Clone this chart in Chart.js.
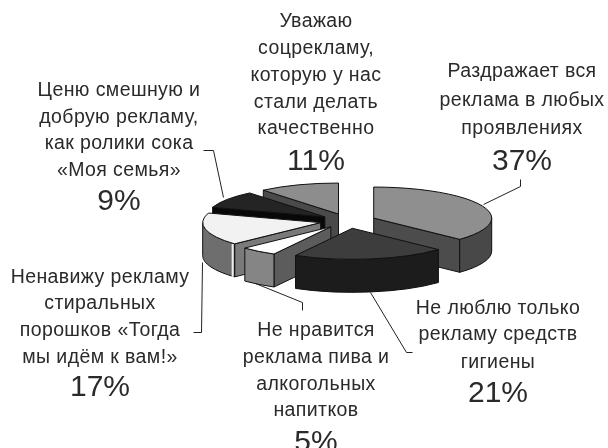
<!DOCTYPE html>
<html>
<head>
<meta charset="utf-8">
<style>
    html, body { margin: 0; padding: 0; background: #fff; overflow: hidden; }
    canvas { display: block; filter: blur(0.4px); }
</style>
<script src="https://cdn.jsdelivr.net/npm/chart.js@4"></script>
</head>
<body>
<canvas id="pie3d" width="608" height="448"></canvas>
<script>
const categories = [
    ['Раздражает вся', 'реклама в любых', 'проявлениях'],
    ['Не люблю только', 'рекламу средств', 'гигиены'],
    ['Не нравится', 'реклама пива и', 'алкогольных', 'напитков'],
    ['Ненавижу рекламу', 'стиральных', 'порошков «Тогда', 'мы идём к вам!»'],
    ['Ценю смешную и', 'добрую рекламу,', 'как ролики сока', '«Моя семья»'],
    ['Уважаю', 'соцрекламу,', 'которую у нас', 'стали делать', 'качественно']
];
const shares = [37, 21, 5, 17, 9, 11];

const topColors = ['#8f8f8f', '#3d3d3d', '#ffffff', '#f2f2f2', '#242424', '#8d8d8d'];
const rimColors = ['#484848', '#1c1c1c', '#858585', '#6e6e6e', '#0c0c0c', '#4a4a4a'];
const cutColors = ['#4c4c4c', '#1c1c1c', '#5c5c5c', '#7a7a7a', '#080808', '#4a4a4a'];
// pale sliver on the corner of the rim, only the washing powder slice has one
const rimGlints = [null, null, null, '#eeeeee', null, null];

// where the captions sit: centre x, baseline of each line, baseline of the percent
const labelX = [522, 498, 316, 100, 119, 316];
const labelLineY = [
    [77, 106, 134],
    [314, 340, 368],
    [336, 363, 390, 416],
    [283, 309, 336, 363],
    [96, 123, 149, 176],
    [27, 54, 81, 108, 134]
];
const percentY = [170, 402, 451, 396, 210, 170];
const leaders = [
    [[483, 204], [520, 186], [520, 179]],
    [[370, 292], [406, 352], [412, 352]],
    [[255, 283], [302, 302], [302, 310]],
    [[202, 262], [201, 332], [193, 332]],
    [[223, 197], [213, 150], [203, 150]],
    []
];

const SQUASH = 0.263;
const EXPLODE = 28;
const DEPTH = 33;
const EDGE = '#111';

function sliceGeom(el) {
    const mid = (el.startAngle + el.endAngle) / 2;
    const dx = Math.cos(mid) * EXPLODE;
    const dy = Math.sin(mid) * EXPLODE;
    return { mid, dx, dy, cx: el.x + dx, cy: el.y + dy * SQUASH, rx: el.outerRadius, ry: el.outerRadius * SQUASH };
}

function paint(ctx, fill) {
    ctx.fillStyle = fill;
    ctx.fill();
    ctx.stroke();
}

// side of the cut along one radius, only when it faces the viewer
function drawCut(ctx, g, angle, color) {
    const ex = Math.cos(angle) * g.rx, ey = Math.sin(angle) * g.ry;
    const px = Math.cos(g.mid) * g.rx, py = Math.sin(g.mid) * g.ry;
    if (ex * (ex * py - ey * px) >= 0) return;
    ctx.beginPath();
    ctx.moveTo(g.cx, g.cy);
    ctx.lineTo(g.cx + ex, g.cy + ey);
    ctx.lineTo(g.cx + ex, g.cy + ey + DEPTH);
    ctx.lineTo(g.cx, g.cy + DEPTH);
    ctx.closePath();
    paint(ctx, color);
}

function drawRim(ctx, g, el, color, glint) {
    const a = Math.max(el.startAngle, 0), b = Math.min(el.endAngle, Math.PI);
    if (a >= b) return;
    ctx.beginPath();
    ctx.ellipse(g.cx, g.cy, g.rx, g.ry, 0, a, b);
    ctx.ellipse(g.cx, g.cy + DEPTH, g.rx, g.ry, 0, b, a, true);
    ctx.closePath();
    paint(ctx, color);
    if (glint) {
        const x = g.cx + Math.cos(a) * g.rx - 2;
        const y = g.cy + Math.sin(a) * g.ry;
        ctx.save();
        ctx.strokeStyle = glint;
        ctx.lineWidth = 2;
        ctx.beginPath();
        ctx.moveTo(x, y);
        ctx.lineTo(x, y + DEPTH);
        ctx.stroke();
        ctx.restore();
    }
}

const pie3d = {
    id: 'pie3d',
    beforeDatasetDraw(chart) {
        const ctx = chart.ctx;
        const arcs = chart.getDatasetMeta(0).data;
        // back to front
        const order = arcs.map((el, i) => i).sort((a, b) => sliceGeom(arcs[a]).cy - sliceGeom(arcs[b]).cy);
        ctx.save();
        ctx.lineWidth = 1;
        ctx.strokeStyle = EDGE;
        order.forEach(i => {
            const el = arcs[i];
            const g = sliceGeom(el);
            drawCut(ctx, g, el.startAngle, cutColors[i]);
            drawCut(ctx, g, el.endAngle, cutColors[i]);
            drawRim(ctx, g, el, rimColors[i], rimGlints[i]);

            ctx.save();
            ctx.translate(el.x, el.y);
            ctx.scale(1, SQUASH);
            ctx.translate(-el.x + g.dx, -el.y + g.dy);
            el.draw(ctx);
            ctx.restore();

            ctx.beginPath();
            ctx.moveTo(g.cx, g.cy);
            ctx.ellipse(g.cx, g.cy, g.rx, g.ry, 0, el.startAngle, el.endAngle);
            ctx.closePath();
            ctx.stroke();
        });
        ctx.restore();
        return false;
    },
    afterDraw(chart) {
        const ctx = chart.ctx;
        ctx.save();
        ctx.strokeStyle = '#222';
        ctx.lineWidth = 1;
        leaders.forEach(pts => {
            if (!pts.length) return;
            ctx.beginPath();
            pts.forEach((p, j) => j ? ctx.lineTo(p[0] + 0.5, p[1] + 0.5) : ctx.moveTo(p[0] + 0.5, p[1] + 0.5));
            ctx.stroke();
        });
        ctx.fillStyle = '#2a2a2a';
        ctx.textAlign = 'center';
        ctx.textBaseline = 'alphabetic';
        categories.forEach((lines, i) => {
            ctx.font = '19.5px "Liberation Sans"';
            ctx.letterSpacing = '0.4px';
            lines.forEach((line, j) => ctx.fillText(line, labelX[i], labelLineY[i][j]));
            ctx.font = '30px "Liberation Sans"';
            ctx.letterSpacing = '0px';
            ctx.fillText(shares[i] + '%', labelX[i], percentY[i]);
        });
        ctx.restore();
    }
};

document.addEventListener('DOMContentLoaded', () => {
    new Chart(document.getElementById('pie3d').getContext('2d'), {
        type: 'pie',
        data: {
            labels: categories.map(c => c.join(' ')),
            datasets: [{ data: shares, backgroundColor: topColors, borderWidth: 0, radius: 118 }]
        },
        options: {
            responsive: false,
            animation: false,
            events: [],
            layout: { padding: { left: 88, bottom: 6 } },
            plugins: { legend: { display: false }, tooltip: { enabled: false } }
        },
        plugins: [pie3d]
    });
});
</script>
</body>
</html>
